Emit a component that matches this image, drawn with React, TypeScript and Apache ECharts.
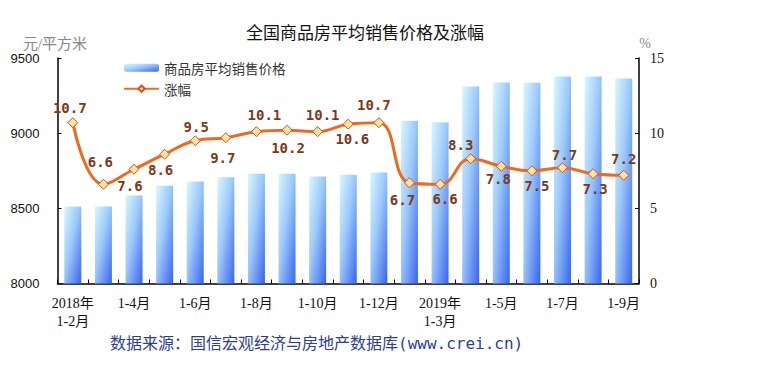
import React, { useEffect, useRef } from "react";
import * as echarts from "echarts";

const categories = [
  "2018年\n1-2月", "1-3月", "1-4月", "1-5月", "1-6月", "1-7月", "1-8月", "1-9月",
  "1-10月", "1-11月", "1-12月", "1-2月", "2019年\n1-3月", "1-4月", "1-5月",
  "1-6月", "1-7月", "1-8月", "1-9月",
];
const avgPrice = [
  8512, 8512, 8585, 8650, 8679, 8706, 8730, 8730, 8712, 8723, 8739,
  9083, 9072, 9310, 9337, 9335, 9377, 9377, 9363,
];
const growth = [
  10.7, 6.6, 7.6, 8.6, 9.5, 9.7, 10.1, 10.2, 10.1, 10.6, 10.7,
  6.7, 6.6, 8.3, 7.8, 7.5, 7.7, 7.3, 7.2,
];
const leftTicks = { min: 8000, max: 9500, interval: 500 };
const rightTicks = { min: 0, max: 15, interval: 5 };
const seriesNames = ["商品房平均销售价格", "涨幅"];
const titleText = "全国商品房平均销售价格及涨幅";
const leftUnit = "元/平方米";
const rightUnit = "%";
const sourceText = "数据来源：国信宏观经济与房地产数据库(www.crei.cn)";

// label offsets (style only) relative to each marker
const labelOffsets: [number, number][] = [
  [-3, -15], [-3, -22], [-4, 17], [-4, 16], [1, -14], [-3, 20], [8, -17],
  [1, 18], [5, -17], [4, 15], [-5, -18], [-7, 17], [5, 15], [-10, -14],
  [-3, 13], [5, 15], [2, -13], [2, 15], [0, -16],
];

export default function App() {
  const ref = useRef<HTMLDivElement>(null);
  useEffect(() => {
    if (!ref.current) return;
    const chart = echarts.init(ref.current, undefined, { renderer: "svg" });
    const serif = "'Liberation Serif','Noto Sans CJK SC',serif";
    const option: any = {
      animation: false,
      backgroundColor: "#ffffff",
      grid: { left: 57.5, right: 118, top: 58, bottom: 88.5 },
      legend: {
        orient: "vertical",
        left: 123,
        top: 61,
        padding: 0,
        itemWidth: 35,
        itemHeight: 8,
        itemGap: 7.5,
        textStyle: { fontSize: 13.5, color: "#333", fontFamily: "'Noto Sans CJK SC',sans-serif" },
        data: seriesNames,
      },
      graphic: [
        {
          type: "text",
          x: 365,
          y: 31,
          style: {
            text: titleText,
            fontSize: 17,
            fontFamily: "'Noto Sans CJK SC',sans-serif",
            fill: "#111",
            align: "center",
            verticalAlign: "middle",
          },
        },
        {
          type: "text",
          x: 55,
          y: 44,
          style: {
            text: leftUnit,
            fontSize: 15,
            fontFamily: serif,
            fill: "#888",
            align: "center",
            verticalAlign: "middle",
          },
        },
        {
          type: "text",
          x: 645,
          y: 43,
          style: {
            text: rightUnit,
            fontSize: 14,
            fontFamily: serif,
            fill: "#888",
            align: "center",
            verticalAlign: "middle",
          },
        },
        {
          type: "text",
          x: 110,
          y: 343,
          style: {
            text: sourceText,
            fontSize: 16,
            fontFamily: "'DejaVu Sans Mono','Noto Sans CJK SC',monospace",
            fill: "#2b3f8e",
            align: "left",
            verticalAlign: "middle",
          },
        },
      ],
      xAxis: {
        type: "category",
        data: categories,
        boundaryGap: true,
        axisLine: { lineStyle: { color: "#000", width: 1.5 } },
        axisTick: { show: true, inside: true, length: 4, interval: 0, lineStyle: { color: "#000" } },
        axisLabel: {
          interval: 1,
          margin: 11,
          fontSize: 14,
          lineHeight: 18,
          color: "#111",
          fontFamily: serif,
        },
        splitLine: { show: false },
      },
      yAxis: [
        {
          type: "value",
          position: "left",
          min: leftTicks.min,
          max: leftTicks.max,
          interval: leftTicks.interval,
          axisLine: { show: true, lineStyle: { color: "#000", width: 1.5 } },
          axisTick: { show: true, inside: true, length: 4, lineStyle: { color: "#000" } },
          axisLabel: {
            margin: 18,
            fontSize: 13,
            color: "#111",
            fontFamily: "'Liberation Sans',Arial,sans-serif",
            formatter: (v: number) => String(v),
          },
          splitLine: { show: false },
        },
        {
          type: "value",
          position: "right",
          min: rightTicks.min,
          max: rightTicks.max,
          interval: rightTicks.interval,
          axisLine: { show: true, lineStyle: { color: "#000", width: 1.5 } },
          axisTick: { show: true, inside: true, length: 4, lineStyle: { color: "#000" } },
          axisLabel: { margin: 11, fontSize: 14, color: "#111", fontFamily: serif },
          splitLine: { show: false },
        },
      ],
      series: [
        {
          name: seriesNames[0],
          type: "bar",
          yAxisIndex: 0,
          barWidth: 17,
          data: avgPrice,
          itemStyle: {
            color: new echarts.graphic.LinearGradient(0, 0, 1, 1, [
              { offset: 0, color: "#d8f7ff" },
              { offset: 0.45, color: "#9cc9fb" },
              { offset: 1, color: "#3a63ee" },
            ]),
          },
          z: 1,
        },
        {
          name: seriesNames[1],
          type: "line",
          yAxisIndex: 1,
          smooth: 0.45,
          symbol: "diamond",
          symbolSize: 10,
          data: growth.map((v, i) => ({ value: v, label: { offset: labelOffsets[i] } })),
          lineStyle: { color: "#ec6a1f", width: 3 },
          itemStyle: { color: "#ffe6a0", borderColor: "#e0481a", borderWidth: 1 },
          label: {
            show: true,
            position: "inside",
            fontFamily: "'DejaVu Sans Mono',monospace",
            fontWeight: "bold",
            fontSize: 14,
            color: "#7a3a1c",
          },
          z: 3,
        },
      ],
    };
    chart.setOption(option);
    return () => chart.dispose();
  }, []);
  return (
    <div
      ref={ref}
      style={{ position: "fixed", left: 0, top: 0, width: 757, height: 372, background: "#fff" }}
    />
  );
}
